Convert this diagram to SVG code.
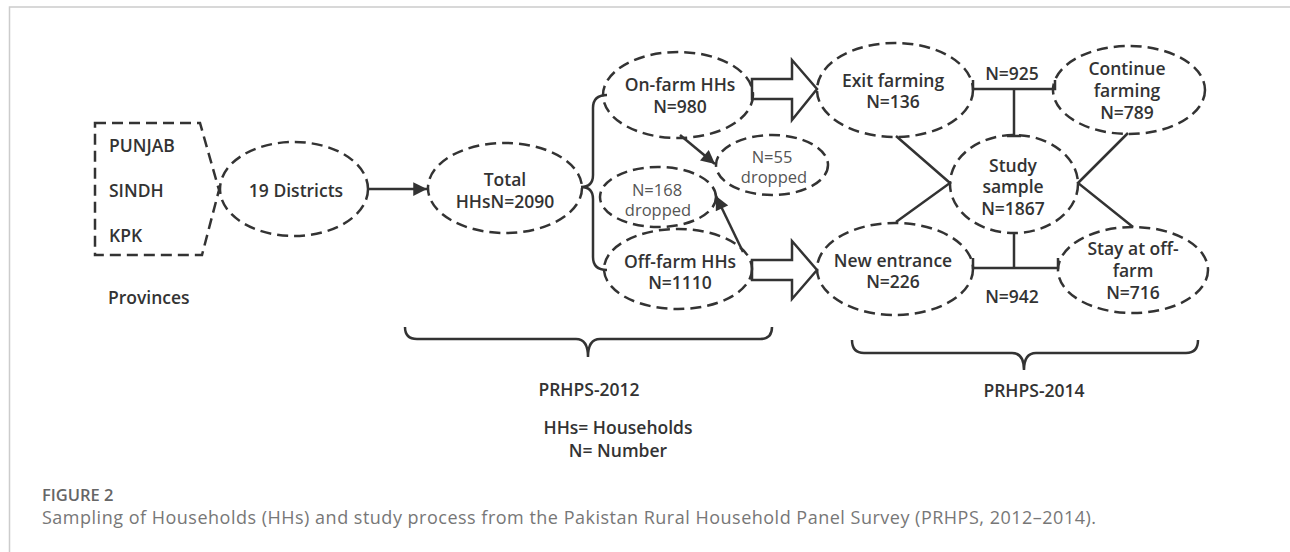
<svg xmlns="http://www.w3.org/2000/svg" width="1290" height="552" viewBox="0 0 1290 552">
<style>
.bg{fill:#ffffff}
.frame{fill:none;stroke:#cccccc;stroke-width:1.5}
.dash{fill:none;stroke:#333333;stroke-width:2.5;stroke-dasharray:11 6}
.ln{fill:none;stroke:#333333;stroke-width:2.5}
.blk{fill:#ffffff;stroke:#333333;stroke-width:2.5;stroke-linejoin:miter}
.t{font-family:"Open Sans","Noto Sans","DejaVu Sans",sans-serif;font-weight:600;font-size:17.5px;fill:#333333;text-anchor:middle}
.ts{text-anchor:start}
.tr{font-family:"Open Sans","Noto Sans","DejaVu Sans",sans-serif;font-weight:400;font-size:16.5px;fill:#555555;text-anchor:middle}
.fig{font-family:"Open Sans","Noto Sans",sans-serif;font-weight:600;font-size:16.5px;fill:#666666}
.cap{font-family:"Open Sans","Noto Sans",sans-serif;font-weight:400;font-size:18px;letter-spacing:0.5px;fill:#777777}
</style>
<defs>
<marker id="ah" viewBox="0 0 10 10" refX="10" refY="5" markerWidth="6" markerHeight="5.5" markerUnits="strokeWidth" orient="auto">
<path d="M0,0 L10,5 L0,10 Z" fill="#333333"/>
</marker>
</defs>
<rect class="bg" x="0" y="0" width="1290" height="552"/>
<path class="frame" d="M9.5,552 L9.5,7 L1290,7"/>

<g id="connectors">
<line class="ln" x1="369" y1="189" x2="427" y2="189" marker-end="url(#ah)"/>
<path class="ln" d="M607,95 Q593,95 593,108 L593,175 Q593,187 581,187 Q593,187 593,199 L593,257 Q593,270 607,270"/>
<line class="ln" x1="680" y1="135" x2="715" y2="164" marker-end="url(#ah)"/>
<line class="ln" x1="743" y1="252" x2="716" y2="196" marker-end="url(#ah)"/>
<polygon class="blk" points="752,79 792,79 792,60 817,89 792,120 792,99 752,99"/>
<polygon class="blk" points="752,260 792,260 792,241 817,270 792,299 792,280 752,280"/>
<path class="ln" d="M973,80 L973,89 L1055,89 L1055,80"/>
<line class="ln" x1="1014" y1="89" x2="1014" y2="136"/>
<line class="ln" x1="1007" y1="136" x2="1021" y2="136"/>
<path class="ln" d="M973,258 L973,268 L1058,268 L1058,258"/>
<line class="ln" x1="1014" y1="268" x2="1014" y2="233"/>
<path class="ln" d="M896,136 L950,183 L896,222"/>
<path class="ln" d="M1128,133 L1078,183 L1133,227"/>
<path class="ln" d="M405,327 Q405,339 417,339 L576,339 Q588,339 588,357 Q588,339 600,339 L760,339 Q772,339 772,327"/>
<path class="ln" d="M852,340 Q852,353 864,353 L1012,353 Q1024,353 1024,370 Q1024,353 1036,353 L1186,353 Q1198,353 1198,340"/>
</g>

<g id="provinces">
<path class="dash" d="M95,123 L200,123 L219,190 L202,255 L95,255 Z"/>
<text class="t ts" x="109" y="152">PUNJAB</text>
<text class="t ts" x="109" y="197">SINDH</text>
<text class="t ts" x="109" y="242">KPK</text>
<text class="t ts" x="108" y="304">Provinces</text>
</g>
<g id="districts">
<ellipse class="dash" cx="294" cy="189" rx="74" ry="47"/>
<text class="t" x="296" y="197">19 Districts</text>
</g>
<g id="total">
<ellipse class="dash" cx="505" cy="188" rx="77" ry="45"/>
<text class="t" x="505" y="186">Total</text>
<text class="t" x="505" y="208">HHsN=2090</text>
</g>
<g id="onfarm">
<ellipse class="dash" cx="678" cy="95" rx="75" ry="43"/>
<text class="t" x="680" y="91">On-farm HHs</text>
<text class="t" x="680" y="113">N=980</text>
</g>
<g id="dropped55">
<ellipse class="dash" cx="772" cy="165" rx="56" ry="30"/>
<text class="tr" x="772" y="163">N=55</text>
<text class="tr" x="774" y="183">dropped</text>
</g>
<g id="dropped168">
<ellipse class="dash" cx="658" cy="197" rx="58" ry="30"/>
<text class="tr" x="657" y="196">N=168</text>
<text class="tr" x="658" y="216">dropped</text>
</g>
<g id="offfarm">
<ellipse class="dash" cx="678" cy="269" rx="74" ry="40"/>
<text class="t" x="680" y="268">Off-farm HHs</text>
<text class="t" x="680" y="289">N=1110</text>
</g>
<g id="exit">
<ellipse class="dash" cx="895" cy="90" rx="78" ry="47"/>
<text class="t" x="893" y="87">Exit farming</text>
<text class="t" x="893" y="108">N=136</text>
</g>
<g id="continue">
<ellipse class="dash" cx="1129" cy="90" rx="76" ry="44"/>
<text class="t" x="1127" y="75">Continue</text>
<text class="t" x="1127" y="97">farming</text>
<text class="t" x="1127" y="119">N=789</text>
</g>
<g id="study">
<ellipse class="dash" cx="1014" cy="184" rx="64" ry="49"/>
<text class="t" x="1013" y="172">Study</text>
<text class="t" x="1013" y="193">sample</text>
<text class="t" x="1013" y="215">N=1867</text>
</g>
<g id="newentrance">
<ellipse class="dash" cx="895" cy="269" rx="78" ry="46"/>
<text class="t" x="893" y="267">New entrance</text>
<text class="t" x="893" y="288">N=226</text>
</g>
<g id="stay">
<ellipse class="dash" cx="1133" cy="270" rx="75" ry="43"/>
<text class="t" x="1133" y="255">Stay at off-</text>
<text class="t" x="1133" y="277">farm</text>
<text class="t" x="1133" y="299">N=716</text>
</g>
<g id="labels">
<text class="t" x="1012" y="80">N=925</text>
<text class="t" x="1012" y="303">N=942</text>
<text class="t" x="589" y="396">PRHPS-2012</text>
<text class="t" x="1034" y="397">PRHPS-2014</text>
<text class="t" x="618" y="434">HHs= Households</text>
<text class="t" x="618" y="457">N= Number</text>
</g>
<g id="caption">
<text class="fig" x="42" y="501">FIGURE 2</text>
<text class="cap" x="42" y="524">Sampling of Households (HHs) and study process from the Pakistan Rural Household Panel Survey (PRHPS, 2012–2014).</text>
</g>
</svg>
